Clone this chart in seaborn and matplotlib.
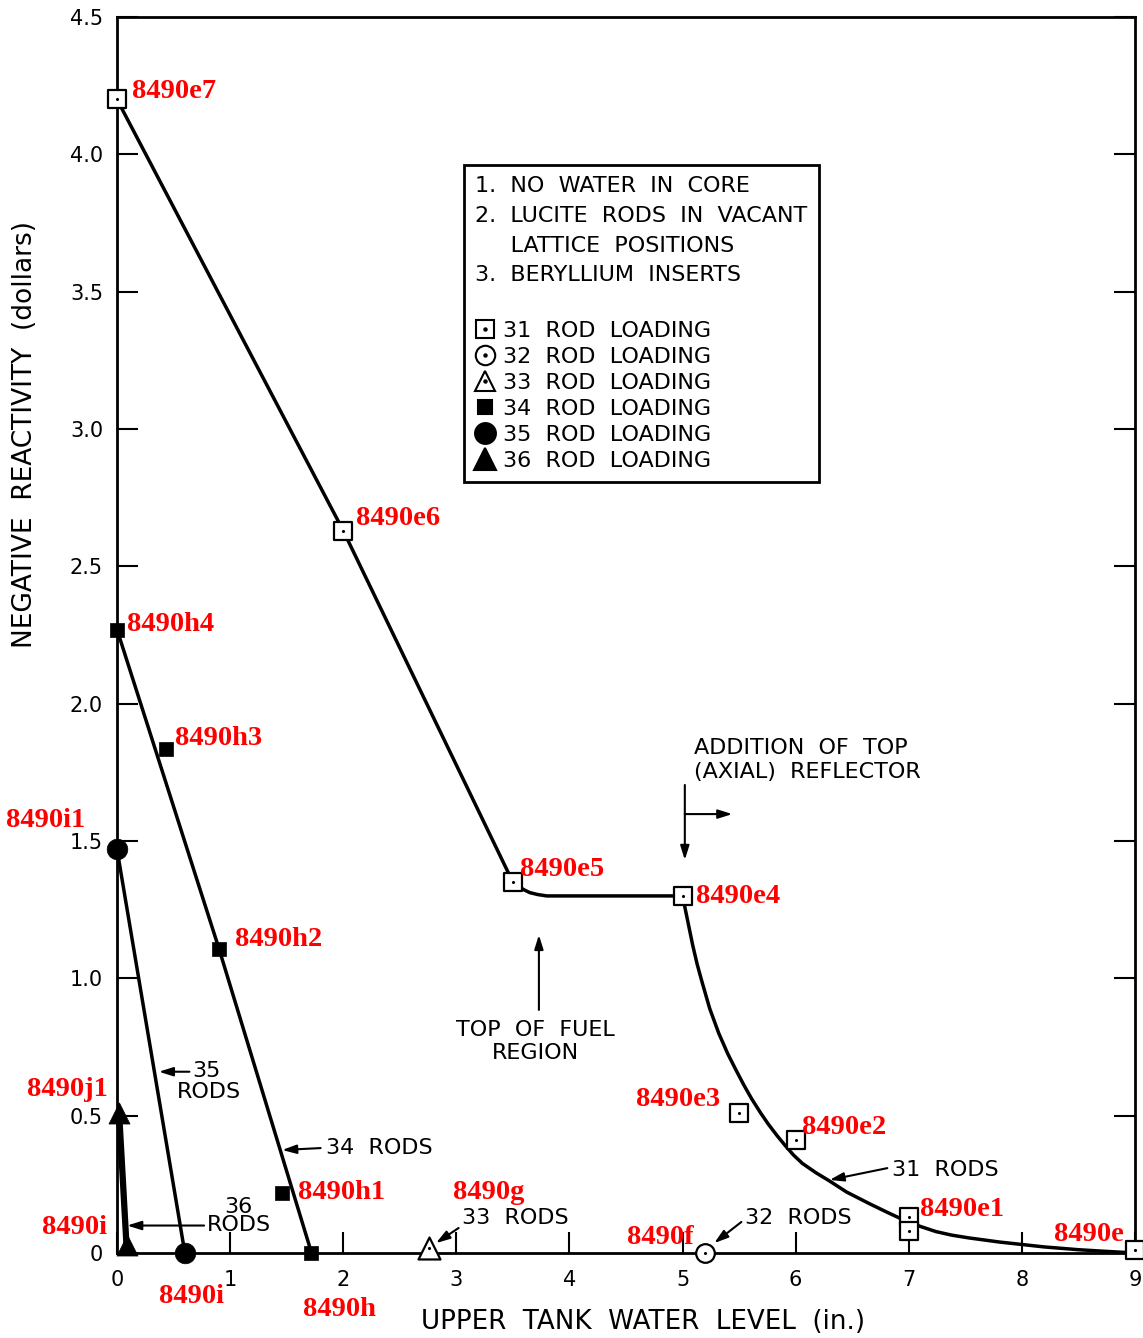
import numpy as np
import pandas as pd
import matplotlib
matplotlib.use('Agg')
import matplotlib.pyplot as plt
import seaborn as sns
from matplotlib.lines import Line2D

# ---- values ----
# measured points, one list pair per rod loading
x31 = [0.0, 2.0, 3.5, 5.0, 5.5, 6.0, 7.0, 7.0, 9.0]
y31 = [4.20, 2.63, 1.35, 1.30, 0.51, 0.41, 0.13, 0.08, 0.01]
x32 = [5.2]
y32 = [0.0]
x33 = [2.76]
y33 = [0.02]
x34 = [0.0, 0.43, 0.90, 1.46, 1.715]
y34 = [2.27, 1.835, 1.107, 0.218, 0.0]
x35 = [0.0, 0.60]
y35 = [1.47, 0.0]
x36 = [0.02, 0.09]
y36 = [0.51, 0.03]

# drawn (faired) curves
curve31_x = [0.0, 2.0, 3.5, 3.55, 3.6, 3.65, 3.72, 3.8, 4.0, 5.0, 5.02, 5.05, 5.09,
             5.13, 5.17, 5.24, 5.32, 5.40, 5.47, 5.54, 5.61, 5.69, 5.76, 5.84, 5.91,
             5.98, 6.06, 6.18, 6.30, 6.45, 6.65, 6.80, 6.94, 7.10, 7.24, 7.38, 7.53,
             7.80, 8.0, 8.2, 8.5, 8.7, 9.0]
curve31_y = [4.20, 2.63, 1.35, 1.335, 1.322, 1.312, 1.305, 1.30, 1.30, 1.30, 1.26,
             1.20, 1.12, 1.05, 0.99, 0.89, 0.80, 0.725, 0.668, 0.613, 0.562, 0.51,
             0.468, 0.425, 0.39, 0.357, 0.326, 0.292, 0.262, 0.222, 0.18, 0.15,
             0.123, 0.097, 0.078, 0.065, 0.055, 0.04, 0.031, 0.022, 0.012, 0.007, 0.0]
line34_x = [0.0, 0.90, 1.72]
line34_y = [2.27, 1.11, 0.0]
line35_x = [0.0, 0.60]
line35_y = [1.47, 0.0]
line36_x = [0.02, 0.085]
line36_y = [0.50, 0.02]

# ticks
xticks = list(range(10))
yticks = [0, 0.5, 1.0, 1.5, 2.0, 2.5, 3.0, 3.5, 4.0, 4.5]
ytick_labels = ['0', '0.5', '1.0', '1.5', '2.0', '2.5', '3.0', '3.5', '4.0', '4.5']

# red run labels
run_names = ['8490e7', '8490e6', '8490h4', '8490h3', '8490i1', '8490e5', '8490e4',
             '8490h2', '8490j1', '8490e3', '8490e2', '8490h1', '8490g', '8490e1',
             '8490i', '8490f', '8490e', '8490i', '8490h']
run_x = [0.13, 2.11, 0.09, 0.51, -0.98, 3.56, 5.12, 1.04, -0.80, 4.59, 6.06, 1.60,
         2.97, 7.10, -0.66, 4.51, 8.28, 0.37, 1.64]
run_y = [4.23, 2.675, 2.29, 1.875, 1.575, 1.395, 1.297, 1.14, 0.595, 0.558, 0.456,
         0.222, 0.222, 0.157, 0.092, 0.056, 0.067, -0.158, -0.205]

legend_title = ('1.  NO  WATER  IN  CORE\n'
                '2.  LUCITE  RODS  IN  VACANT\n'
                '     LATTICE  POSITIONS\n'
                '3.  BERYLLIUM  INSERTS\n')
legend_labels = ['31  ROD  LOADING', '32  ROD  LOADING', '33  ROD  LOADING',
                 '34  ROD  LOADING', '35  ROD  LOADING', '36  ROD  LOADING']

# ---- style ----
sns.set_theme(style='white')
plt.rcParams['font.family'] = ['DejaVu Sans']
plt.rcParams['axes.edgecolor'] = 'black'

fig = plt.figure(figsize=(11.43, 13.38), dpi=100)
ax = fig.add_axes([117 / 1143, 85 / 1338, 1018 / 1143, 1236 / 1338])

# curves
line_kw = dict(color='black', linewidth=2.5, sort=False, estimator=None, ax=ax)
sns.lineplot(x=curve31_x, y=curve31_y, **line_kw)
sns.lineplot(x=line34_x, y=line34_y, **line_kw)
sns.lineplot(x=line35_x, y=line35_y, **line_kw)
sns.lineplot(x=line36_x, y=line36_y, color='black', linewidth=4.5, sort=False,
             estimator=None, ax=ax)
for ln in ax.lines:
    ln.set_solid_joinstyle('round')


def open_dotted(x, y, marker, s):
    sns.scatterplot(x=x, y=y, marker=marker, s=s, color='black', facecolor='white',
                    edgecolor='black', linewidth=1.6, zorder=4, clip_on=False, ax=ax)
    sns.scatterplot(x=x, y=y, marker='o', s=5, color='black', edgecolor='black',
                    linewidth=0, zorder=5, clip_on=False, ax=ax)


def filled(x, y, marker, s):
    sns.scatterplot(x=x, y=y, marker=marker, s=s, color='black', edgecolor='black',
                    linewidth=0.5, zorder=4, clip_on=False, ax=ax)


open_dotted(x31, y31, 's', 150)
open_dotted(x32, y32, 'o', 180)
open_dotted(x33, y33, '^', 250)
filled(x34, y34, 's', 100)
filled(x35, y35, 'o', 220)
filled(x36, y36, '^', 230)

for ln in ax.lines:
    ln.set_clip_on(False)

# axes
ax.set_xlim(0, 9)
ax.set_ylim(0, 4.5)
ax.set_xticks(xticks)
ax.set_xticklabels([str(v) for v in xticks])
ax.set_yticks(yticks)
ax.set_yticklabels(ytick_labels)
ax.tick_params(axis='both', direction='in', length=15, width=1.5, color='black',
               labelsize=15, labelcolor='black')
ax.tick_params(axis='y', left=True, right=True, pad=10)
ax.tick_params(axis='x', bottom=True, top=False, pad=12)
for sp in ax.spines.values():
    sp.set_linewidth(2.0)
    sp.set_color('black')
    sp.set_visible(True)

ax.set_xlabel('UPPER  TANK  WATER  LEVEL  (in.)', fontsize=18.8, color='black')
ax.xaxis.set_label_coords(0.517, -0.045)
ax.set_ylabel('NEGATIVE  REACTIVITY  (dollars)', fontsize=19, color='black')
ax.yaxis.set_label_coords(-0.078, 0.662)

# annotations
arrow = dict(arrowstyle='-|>,head_length=0.7,head_width=0.22', color='black',
             lw=1.5, shrinkA=0, shrinkB=0)
txt = dict(fontsize=16, color='black', va='center')

ax.text(0.663, 0.663, '35', ha='left', **txt)
ax.text(0.53, 0.586, 'RODS', ha='left', **txt)
ax.annotate('', xy=(0.37, 0.66), xytext=(0.64, 0.66), arrowprops=arrow)

ax.text(1.85, 0.382, '34  RODS', ha='left', **txt)
ax.annotate('', xy=(1.46, 0.375), xytext=(1.80, 0.382), arrowprops=arrow)

ax.text(0.946, 0.167, '36', ha='left', **txt)
ax.text(0.796, 0.102, 'RODS', ha='left', **txt)
ax.annotate('', xy=(0.09, 0.10), xytext=(0.77, 0.10), arrowprops=arrow)

ax.text(3.05, 0.127, '33  RODS', ha='left', **txt)
ax.annotate('', xy=(2.82, 0.036), xytext=(3.02, 0.091), arrowprops=arrow)

ax.text(5.55, 0.127, '32  RODS', ha='left', **txt)
ax.annotate('', xy=(5.28, 0.036), xytext=(5.52, 0.113), arrowprops=arrow)

ax.text(6.85, 0.302, '31  RODS', ha='left', **txt)
ax.annotate('', xy=(6.30, 0.266), xytext=(6.81, 0.309), arrowprops=arrow)

ax.text(3.70, 0.77, 'TOP  OF  FUEL\nREGION', ha='center', multialignment='center',
        linespacing=1.2, **txt)
ax.annotate('', xy=(3.73, 1.158), xytext=(3.73, 0.885), arrowprops=arrow)

ax.text(5.10, 1.795, 'ADDITION  OF  TOP\n(AXIAL)  REFLECTOR', ha='left',
        multialignment='left', linespacing=1.2, **txt)
ax.annotate('', xy=(5.02, 1.431), xytext=(5.02, 1.704), arrowprops=arrow)
ax.annotate('', xy=(5.44, 1.598), xytext=(5.02, 1.598), arrowprops=arrow)

# red run labels
for name, rx, ry in zip(run_names, run_x, run_y):
    ax.text(rx, ry, name, ha='left', va='center', color='#ff0000', fontsize=20.5,
            fontweight='bold', family=['Liberation Serif', 'DejaVu Serif'], zorder=6)


# legend box
def handle(marker, ms, fill, dot):
    base = Line2D([], [], ls='none', marker=marker, ms=ms,
                  mfc='black' if fill else 'white', mec='black', mew=1.5)
    if dot:
        return (base, Line2D([], [], ls='none', marker='o', ms=2.2, color='black'))
    return base


handles = [handle('s', 13, False, True), handle('o', 14, False, True),
           handle('^', 15, False, True), handle('s', 10, True, False),
           handle('o', 15, True, False), handle('^', 16, True, False)]
leg = ax.legend(handles, legend_labels, title=legend_title, loc='upper left',
                bbox_to_anchor=(0.341, 0.880), frameon=True, fancybox=False,
                edgecolor='black', facecolor='white', framealpha=1, fontsize=16,
                title_fontsize=16, alignment='left', handlelength=0.9,
                handletextpad=0.35, labelspacing=0.27, borderpad=0.5,
                borderaxespad=0)
leg.get_frame().set_linewidth(2.0)
leg.get_title().set_linespacing(1.6)
leg.get_title().set_color('black')
for t in leg.get_texts():
    t.set_color('black')

fig.savefig('out.png', dpi=100, facecolor='white')
